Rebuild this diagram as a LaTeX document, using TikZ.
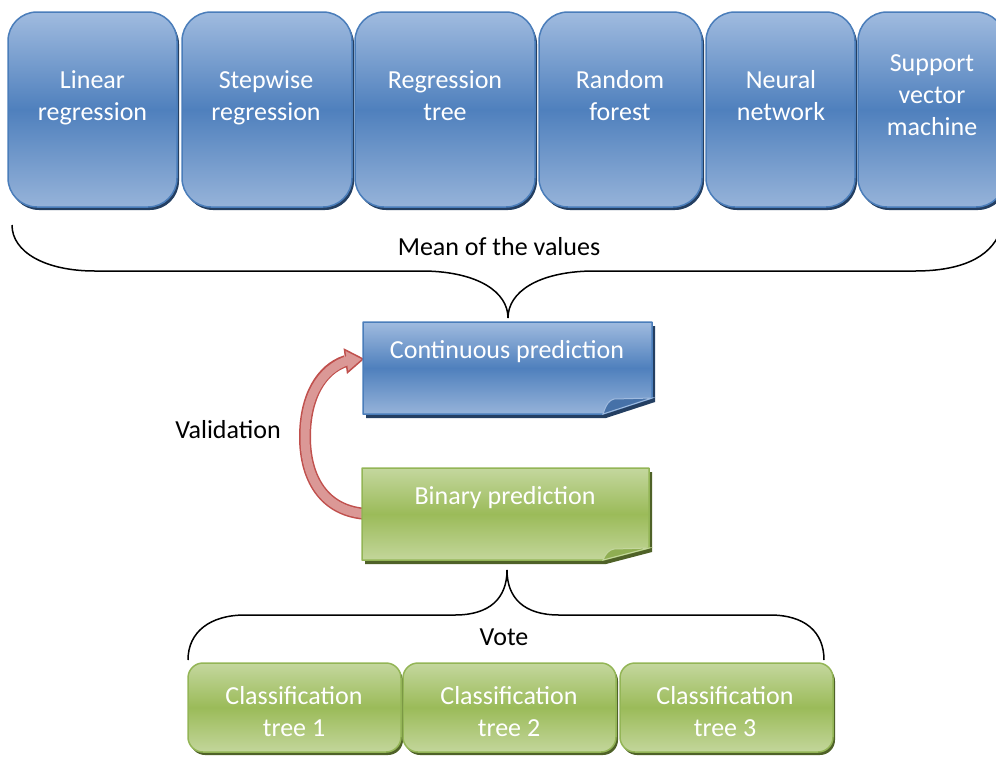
\documentclass[tikz,border=0pt]{standalone}
\usepackage{fontspec}
\setmainfont{Carlito}
\usetikzlibrary{shadows}

\definecolor{bluetop}{HTML}{A0BBDF}
\definecolor{bluemid}{HTML}{4F80BD}
\definecolor{bluebot}{HTML}{96B3D9}
\definecolor{blueline}{HTML}{4A7DBA}
\definecolor{blueshadow}{HTML}{243F62}
\definecolor{blueflap}{HTML}{4671A8}
\definecolor{greentop}{HTML}{C4D79E}
\definecolor{greenmid}{HTML}{9BBB59}
\definecolor{greenbot}{HTML}{C3D69B}
\definecolor{greenline}{HTML}{93B556}
\definecolor{greenshadow}{HTML}{4F6228}
\definecolor{greenflap}{HTML}{8FAE52}
\definecolor{arrowdark}{HTML}{C0504D}
\definecolor{arrowlight}{HTML}{DB9896}

\tikzset{
  boxtext/.style={text=white, align=center, font=\fontsize{26}{32}\selectfont},
  toptext/.style={boxtext, anchor=north, inner sep=0pt},
  labeltext/.style={text=black, font=\fontsize{26}{32}\selectfont},
  methodbox/.style={draw=blueline, line width=1.5pt, rounded corners=29pt,
    top color=bluetop, bottom color=bluebot, middle color=bluemid,
    drop shadow={shadow xshift=2pt, shadow yshift=-3pt, fill=blueshadow, opacity=1},
    minimum height=195pt, inner sep=0pt, outer sep=0pt},
  treebox/.style={draw=greenline, line width=1.5pt, rounded corners=15pt,
    top color=greentop, bottom color=greenbot, middle color=greenmid,
    drop shadow={shadow xshift=2pt, shadow yshift=-3pt, fill=greenshadow, opacity=1},
    minimum width=213pt, minimum height=89pt, inner sep=0pt, outer sep=0pt},
  area/.style={inner sep=0pt, outer sep=0pt},
  brace/.style={draw=black, line width=1.5pt},
}

\begin{document}
\begin{tikzpicture}[x=1pt, y=-1pt]
\useasboundingbox (0,0) rectangle (996,756);

% regression methods
\node[methodbox, minimum width=169pt] (lin) at (92.5,109.5) {};
\node[methodbox, minimum width=170pt] (step) at (267,109.5) {};
\node[methodbox, minimum width=180pt] (rtree) at (445,109.5) {};
\node[methodbox, minimum width=163pt] (rf) at (620.5,109.5) {};
\node[methodbox, minimum width=149pt] (nn) at (780.5,109.5) {};
\node[methodbox, minimum width=147pt] (svm) at (931.5,109.5) {};
\node[toptext] (lin-t) at (92.5,70) {Linear\\regression};
\node[toptext] (step-t) at (266,70) {Stepwise\\regression};
\node[toptext] (rtree-t) at (445,70) {Regression\\tree};
\node[toptext] (rf-t) at (620,70) {Random\\forest};
\node[toptext] (nn-t) at (781,70) {Neural\\network};
\node[toptext] (svm-t) at (932,54) {Support\\vector\\machine};

% upper brace
\draw[brace] (12,225) .. controls (12,252) and (45,271) .. (95,271)
  -- (425,271) .. controls (478,272) and (508,292) .. (508,318)
  .. controls (508,292) and (538,272) .. (591,271)
  -- (915,271) .. controls (960,271) and (990,258) .. (1000,232);
\node[labeltext] (mean) at (499,247) {Mean of the values};

% regions of the two prediction boxes
\node[area, minimum width=289pt, minimum height=92pt] (cont) at (507.5,368) {};
\node[area, minimum width=287pt, minimum height=92pt] (bin) at (505.5,514) {};

% validation arrow
\coordinate (vstart) at (368,514);
\coordinate (vend) at (346,361);
\draw[arrowdark, line width=12pt] (vstart) .. controls (323,512) and (305,477) .. (305,437)
  .. controls (305,397) and (321,369) .. (vend);
\filldraw[fill=arrowlight, draw=arrowdark, line width=1.5pt, line join=miter]
  (344.5,349.5) -- (cont.west |- 0,359) -- (347.5,372.5) -- cycle;
\draw[arrowlight, line width=9pt, shorten >=-2.5pt] (vstart) .. controls (323,512) and (305,477) .. (305,437)
  .. controls (305,397) and (321,369) .. (vend);
\node[labeltext] (valid) at (228,430) {Validation};

% continuous prediction box
\fill[blueshadow] (366,326) -- (655,326) -- (655,402) -- (606,418) -- (366,418) -- cycle;
\shade[top color=bluetop, bottom color=bluebot, middle color=bluemid]
  (363,322) -- (652,322) -- (652,398) -- (603,414) -- (363,414) -- cycle;
\draw[blueline, line width=1.5pt, line join=round]
  (363,322) -- (652,322) -- (652,398) -- (603,414) -- (363,414) -- cycle;
\filldraw[fill=blueflap, draw=bluetop, line width=1pt]
  (603,414) .. controls (606,405) and (609,400) .. (614,399) -- (652,398) -- cycle;
\node[boxtext] (cont-t) at (507,352) {Continuous prediction};

% binary prediction box
\fill[greenshadow] (365,472) -- (652,472) -- (652,552) -- (606,564) -- (365,564) -- cycle;
\shade[top color=greentop, bottom color=greenbot, middle color=greenmid]
  (362,468) -- (649,468) -- (649,548) -- (603,560) -- (362,560) -- cycle;
\draw[greenline, line width=1.5pt, line join=round]
  (362,468) -- (649,468) -- (649,548) -- (603,560) -- (362,560) -- cycle;
\filldraw[fill=greenflap, draw=greentop, line width=1pt]
  (603,560) .. controls (606,553) and (609,550) .. (614,549) -- (649,548) -- cycle;
\node[boxtext] (bin-t) at (505,498) {Binary prediction};

% lower brace
\draw[brace] (188,660) .. controls (188,632) and (210,615) .. (245,615)
  -- (455,615) .. controls (490,615) and (507,598) .. (507,570)
  .. controls (507,598) and (524,615) .. (559,615)
  -- (770,615) .. controls (805,615) and (824,632) .. (824,660);
\node[labeltext] (vote) at (504,637) {Vote};

% classification trees
\node[treebox] (ct1) at (294.5,707.5) {};
\node[treebox] (ct2) at (509.5,707.5) {};
\node[treebox] (ct3) at (726.5,707.5) {};
\node[boxtext] (ct1-t) at (294,712) {Classification\\tree 1};
\node[boxtext] (ct2-t) at (509,712) {Classification\\tree 2};
\node[boxtext] (ct3-t) at (725,712) {Classification\\tree 3};
\end{tikzpicture}
\end{document}
